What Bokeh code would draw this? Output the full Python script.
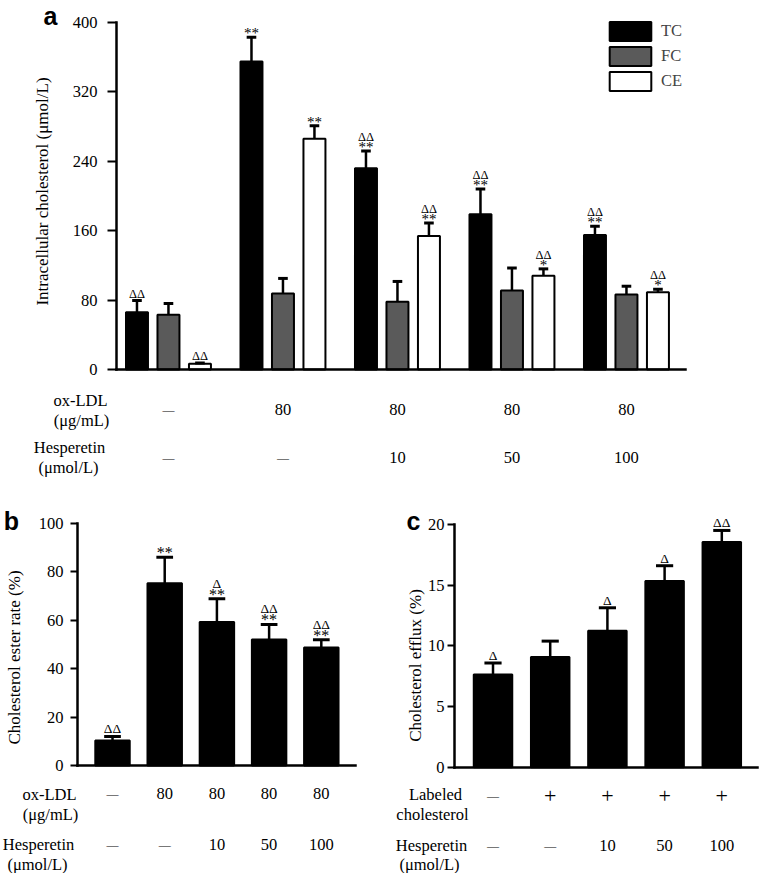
import numpy as np
from bokeh.plotting import figure
from bokeh.models import (Range1d, FixedTicker, LinearAxis, LabelSet,
                          ColumnDataSource, Legend, LegendItem)
from bokeh.layouts import column, row
from bokeh.core.properties import value
from bokeh.embed import file_html
from bokeh.resources import INLINE

# ---------------- data ----------------
# Panel a: intracellular cholesterol (umol/L)
groups = [0, 1, 2, 3, 4]
oxldl = ["—", "80", "80", "80", "80"]
hesperetin = ["—", "—", "10", "50", "100"]
tc = [66, 355, 232, 179, 155]
tc_err = [13.5, 28, 20, 29, 10]
fc = [63, 87.5, 78, 91, 86.5]
fc_err = [13, 17.5, 23.5, 26, 9.5]
ce = [6.5, 266, 154, 108, 89]
ce_err = [1, 15, 15, 8, 3.5]
tc_sig = ["ΔΔ", "**", "**", "**", "**"]
tc_sig2 = ["", "", "ΔΔ", "ΔΔ", "ΔΔ"]
fc_sig = ["", "", "", "", ""]
fc_sig2 = ["", "", "", "", ""]
ce_sig = ["ΔΔ", "**", "**", "*", "*"]
ce_sig2 = ["", "", "ΔΔ", "ΔΔ", "ΔΔ"]
a_yticks = [0, 80, 160, 240, 320, 400]

# Panel b: cholesterol ester rate (%)
ester = [10.3, 75.2, 59.2, 52.0, 48.7]
ester_err = [1.7, 10.8, 9.6, 6.2, 3.2]
ester_sig = ["ΔΔ", "**", "**", "**", "**"]
ester_sig2 = ["", "", "Δ", "ΔΔ", "ΔΔ"]
b_yticks = [0, 20, 40, 60, 80, 100]

# Panel c: cholesterol efflux (%)
labeled = ["—", "+", "+", "+", "+"]
efflux = [7.65, 9.1, 11.25, 15.35, 18.57]
efflux_err = [0.95, 1.3, 1.9, 1.27, 0.96]
efflux_sig = ["Δ", "", "Δ", "Δ", "ΔΔ"]
efflux_sig2 = ["", "", "", "", ""]
c_yticks = [0, 5, 10, 15, 20]

SERIF = "Liberation Serif"
SANS = "Liberation Sans"
GRAY = "#5a5a5a"
FS = "16.5px"


def make_fig(width, height, xr, yr, xb, yb, lab_b, yticks, ylabel, tick_out, tick_standoff,
             label_standoff):
    p = figure(width=width, height=height, x_range=Range1d(*xr), y_range=Range1d(*yr),
               x_axis_type=None, y_axis_type=None, output_backend="svg",
               toolbar_location=None, tools="", min_border=0)
    p.min_border_left = 0
    p.min_border_right = 0
    p.min_border_top = 0
    p.min_border_bottom = 0
    p.outline_line_color = None
    p.extra_x_ranges = {"px": Range1d(0, width)}
    p.extra_y_ranges = {"px": Range1d(height, 0)}
    common = dict(ticker=FixedTicker(ticks=yticks), fixed_location=xb[0],
                  major_label_text_font=SERIF, major_label_text_font_size=FS,
                  major_label_standoff=tick_standoff, major_tick_out=tick_out, major_tick_in=0,
                  minor_tick_out=0, minor_tick_in=0, major_tick_line_width=2)
    # visible y axis (line, ticks, tick labels)
    ya = LinearAxis(bounds=yb, axis_line_width=2.5, axis_line_cap="square",
                    major_label_text_color="black", **common)
    p.add_layout(ya, "left")
    # companion axis that only carries the axis title, centred like the reference
    yl = LinearAxis(bounds=lab_b, axis_label=ylabel, axis_label_text_font=SERIF,
                    axis_label_text_font_size="17px", axis_label_text_font_style="normal",
                    axis_label_standoff=label_standoff, axis_label_text_color="black",
                    axis_line_color=None, major_tick_line_color=None,
                    major_label_text_alpha=0, **common)
    p.add_layout(yl, "left")
    xa = LinearAxis(ticker=FixedTicker(ticks=[]), fixed_location=yb[0], bounds=xb,
                    axis_line_width=2.5,
                    major_tick_line_color=None, minor_tick_line_color=None,
                    major_tick_out=0, major_tick_in=0, minor_tick_out=0, minor_tick_in=0,
                    major_label_standoff=0, major_label_text_font_size="0px",
                    axis_line_cap="square")
    p.add_layout(xa, "below")
    return p


def put_text(p, xs, ys, texts, size=FS, font=SERIF, style="normal", baseline="middle"):
    p.text(x=list(xs), y=list(ys), text=list(texts), text_align="center",
           text_baseline=baseline, text_font=value(font), text_font_size=size,
           text_font_style=style, text_color="black", x_range_name="px", y_range_name="px")


def put_row(p, xs, texts, y):
    special = {"—": "12px", "+": "22px"}
    sizes = [special.get(t, FS) for t in texts]
    p.text(x=list(xs), y=[y] * len(texts), text=list(texts), text_align="center",
           text_baseline="middle", text_font=value(SERIF), text_font_size=sizes,
           text_color="black", y_range_name="px")


def add_bars(p, xs, vals, errs, width, fill, capw):
    src = ColumnDataSource(dict(x=list(xs), top=list(vals)))
    r = p.vbar(x="x", top="top", width=width, bottom=0, source=src,
               fill_color=fill, line_color="black", line_width=2)
    tops = np.array(vals) + np.array(errs)
    xs = np.array(xs, dtype=float)
    p.segment(x0=xs, y0=np.array(vals), x1=xs, y1=tops, line_color="black", line_width=2.5)
    p.segment(x0=xs - capw, y0=tops, x1=xs + capw, y1=tops, line_color="black", line_width=3)
    return r


def add_sig(p, xs, vals, errs, low, up, star_size, delta_size, d_off, up_off):
    stars = dict(x=[], y=[], t=[])
    deltas = dict(x=[], y=[], t=[], off=[])
    for x, v, e, lo, hi in zip(xs, vals, errs, low, up):
        if lo:
            if "*" in lo:
                stars["x"].append(x); stars["y"].append(v + e); stars["t"].append(lo)
            else:
                deltas["x"].append(x); deltas["y"].append(v + e); deltas["t"].append(lo)
                deltas["off"].append(d_off)
        if hi:
            deltas["x"].append(x); deltas["y"].append(v + e); deltas["t"].append(hi)
            deltas["off"].append(up_off)
    if stars["x"]:
        p.add_layout(LabelSet(x="x", y="y", text="t", source=ColumnDataSource(stars),
                              y_offset=-1, text_align="center", text_baseline="alphabetic",
                              text_font=value(SERIF), text_font_size=star_size,
                              text_color="black"))
    if deltas["x"]:
        p.add_layout(LabelSet(x="x", y="y", text="t", source=ColumnDataSource(deltas),
                              y_offset="off", text_align="center", text_baseline="alphabetic",
                              text_font=value(SERIF), text_font_size=delta_size,
                              text_color="black"))


xs = np.array(groups, dtype=float)

# ---------------- panel a ----------------
pa = make_fig(759, 500, (-1.467, 5.162), (-151.0, 425.36), (-0.454, 4.515), (0, 400),
              (10.4, 400), a_yticks, "Intracellular cholesterol (μmol/L)", 9, 10, 56)
off = 0.275
bw = 0.192
r_tc = add_bars(pa, xs - off, tc, tc_err, bw, "black", 0.042)
r_fc = add_bars(pa, xs, fc, fc_err, bw, GRAY, 0.042)
r_ce = add_bars(pa, xs + off, ce, ce_err, bw, "white", 0.042)
add_sig(pa, xs - off, tc, tc_err, tc_sig, tc_sig2, "15px", "12.5px", 2.5, 10)
add_sig(pa, xs, fc, fc_err, fc_sig, fc_sig2, "15px", "12.5px", 2.5, 10)
add_sig(pa, xs + off, ce, ce_err, ce_sig, ce_sig2, "15px", "12.5px", 2.5, 10)

legend = Legend(items=[LegendItem(label="TC", renderers=[r_tc]),
                       LegendItem(label="FC", renderers=[r_fc]),
                       LegendItem(label="CE", renderers=[r_ce])],
                location=(604, 407), glyph_width=52, glyph_height=24, spacing=1,
                padding=0, margin=0, label_standoff=5, label_text_font=SERIF,
                label_text_font_size=FS, border_line_color=None,
                background_fill_alpha=0)
pa.add_layout(legend)

put_text(pa, [50], [15], ["a"], size="25px", font=SANS, style="bold", baseline="alphabetic")
put_text(pa, [80, 81, 69, 68], [400, 420, 447, 467],
         ["ox-LDL", "(μg/mL)", "Hesperetin", "(μmol/L)"])
put_row(pa, xs, oxldl, 409)
put_row(pa, xs, hesperetin, 457)

# ---------------- panel b ----------------
pb = make_fig(380, 373, (-2.146, 5.134), (-44.57, 109.37), (-0.670, 4.655), (0, 100),
              (-10.8, 100), b_yticks, "Cholesterol ester rate (%)", 7, 7, 47)
add_bars(pb, xs, ester, ester_err, 0.66, "black", 0.16)
add_sig(pb, xs, ester, ester_err, ester_sig, ester_sig2, "16px", "13.5px", 3, 11)
put_text(pb, [11], [20], ["b"], size="25px", font=SANS, style="bold", baseline="alphabetic")
put_text(pb, [49, 50, 38, 37], [294, 314, 344, 364],
         ["ox-LDL", "(μg/mL)", "Hesperetin", "(μmol/L)"])
put_row(pb, xs, oxldl, 293)
put_row(pb, xs, hesperetin, 344)

# ---------------- panel c ----------------
pc = make_fig(379, 373, (-1.967, 4.659), (-8.77, 22.0), (-0.673, 4.624), (0, 20),
              (-3.22, 20), c_yticks, "Cholesterol efflux (%)", 7, 3, 23)
add_bars(pc, xs, efflux, efflux_err, 0.673, "black", 0.15)
add_sig(pc, xs, efflux, efflux_err, efflux_sig, efflux_sig2, "16px", "13.5px", 3, 11)
put_text(pc, [33], [20], ["c"], size="25px", font=SANS, style="bold", baseline="alphabetic")
put_text(pc, [55, 52, 51, 49], [294, 314, 345, 364],
         ["Labeled", "cholesterol", "Hesperetin", "(μmol/L)"])
put_row(pc, xs, labeled, 295)
put_row(pc, xs, hesperetin, 345)

layout = column(pa, row(pb, pc))
open("out.html", "w").write(file_html(layout, INLINE))
